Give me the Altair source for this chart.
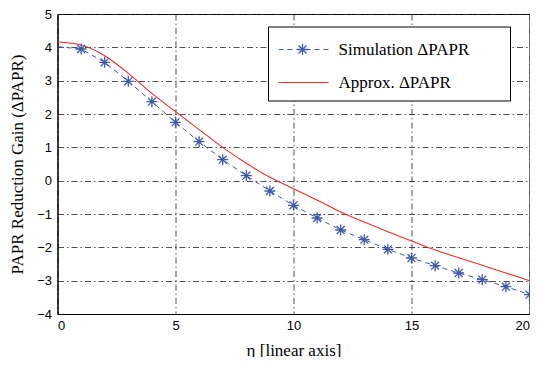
import altair as alt
import pandas as pd

# Simulation ΔPAPR (blue dashed with * markers)
sim_x = [0, 1, 2, 3, 4, 5, 6, 7, 8, 9, 10, 11, 12, 13, 14, 15, 16, 17, 18, 19, 20]
sim_y = [4.02, 3.95, 3.55, 2.98, 2.37, 1.75, 1.17, 0.63, 0.15, -0.31, -0.74, -1.12,
         -1.48, -1.77, -2.06, -2.32, -2.55, -2.77, -2.97, -3.18, -3.42]
marker_from = 1  # markers drawn for eta >= 1

# Approx. ΔPAPR (red solid)
apx_x = [0, 1, 2, 3, 4, 5, 6, 7, 8, 9, 10, 11, 12, 13, 14, 15, 16, 17, 18, 19, 20]
apx_y = [4.16, 4.07, 3.75, 3.22, 2.62, 2.07, 1.53, 1.0, 0.52, 0.1, -0.24, -0.58,
         -0.94, -1.24, -1.53, -1.81, -2.08, -2.31, -2.54, -2.77, -3.0]

x_ticks = [0, 5, 10, 15, 20]
y_ticks = [-4, -3, -2, -1, 0, 1, 2, 3, 4, 5]
legend_labels = ["Simulation \u0394PAPR", "Approx. \u0394PAPR"]

BLUE = "#3f5aa8"
RED = "#ee2b2b"
STAR = "M-1,0L1,0M0,-1L0,1M-0.72,-0.72L0.72,0.72M-0.72,0.72L0.72,-0.72"

W, H = 472, 300

sim = pd.DataFrame({"x": sim_x, "y": sim_y})
apx = pd.DataFrame({"x": apx_x, "y": apx_y})
mk = sim[sim["x"] >= marker_from]

xs = alt.Scale(domain=[0, 20], nice=False, zero=False)
ys = alt.Scale(domain=[-4, 5], nice=False, zero=False)

common = dict(grid=True, gridColor="#222", gridDash=[6, 3, 1.5, 3], gridWidth=0.8,
              labelFont="Liberation Sans", labelFontSize=13, labelColor="black",
              labelOverlap=False, tickSize=0, domainColor="black",
              titleFont="Liberation Serif", titleFontSize=17, titleFontWeight="normal",
              titleColor="black")
xax = alt.Axis(values=x_ticks, title="\u03b7 [linear axis]", labelPadding=5,
               titlePadding=10, **common)
yax = alt.Axis(values=y_ticks, title="PAPR Reduction Gain (\u0394PAPR)", labelPadding=6,
               titlePadding=10, **common)

X = alt.X("x:Q", scale=xs, axis=xax)
Y = alt.Y("y:Q", scale=ys, axis=yax)

sim_line = alt.Chart(sim).mark_line(color=BLUE, strokeDash=[5, 4], strokeWidth=1).encode(x=X, y=Y)
sim_pts = alt.Chart(mk).mark_point(shape=STAR, size=120, color=BLUE, filled=False,
                                   strokeWidth=1.3, opacity=1).encode(x=X, y=Y)
apx_line = alt.Chart(apx).mark_line(color=RED, strokeWidth=1.1, interpolate="monotone").encode(x=X, y=Y)

one = pd.DataFrame({"a": [0]})
# legend box (pixel positions inside the plot area)
lx0, lx1, ly0, ly1 = 211, 453, 13, 87
box = alt.Chart(one).mark_rect(fill="white", stroke="black", strokeWidth=1).encode(
    x=alt.value(lx0), x2=alt.value(lx1), y=alt.value(ly0), y2=alt.value(ly1))
r1, r2 = 35.5, 68.5
leg_l1 = alt.Chart(one).mark_rule(color=BLUE, strokeDash=[5, 4], strokeWidth=1).encode(
    x=alt.value(221), x2=alt.value(271), y=alt.value(r1))
leg_p1 = alt.Chart(one).mark_point(shape=STAR, size=120, color=BLUE, filled=False,
                                   strokeWidth=1.3, opacity=1).encode(
    x=alt.value(245), y=alt.value(r1))
leg_l2 = alt.Chart(one).mark_rule(color=RED, strokeWidth=1.1).encode(
    x=alt.value(221), x2=alt.value(271), y=alt.value(r2))
leg_t1 = alt.Chart(one).mark_text(text=legend_labels[0], align="left", baseline="middle",
                                  font="Liberation Serif", fontSize=17, color="black").encode(
    x=alt.value(281), y=alt.value(r1))
leg_t2 = alt.Chart(one).mark_text(text=legend_labels[1], align="left", baseline="middle",
                                  font="Liberation Serif", fontSize=17, color="black").encode(
    x=alt.value(281), y=alt.value(r2))

chart = alt.layer(sim_line, apx_line, sim_pts, box, leg_l1, leg_p1, leg_l2, leg_t1, leg_t2).properties(
    width=W, height=H,
    autosize=alt.AutoSizeParams(type="none"),
    padding={"left": 49.5, "top": 6, "right": 0.5, "bottom": 43},
    background="white",
).configure_view(stroke="black", strokeWidth=1)

chart.save("out.html", embed_options={"renderer": "svg", "actions": False})
